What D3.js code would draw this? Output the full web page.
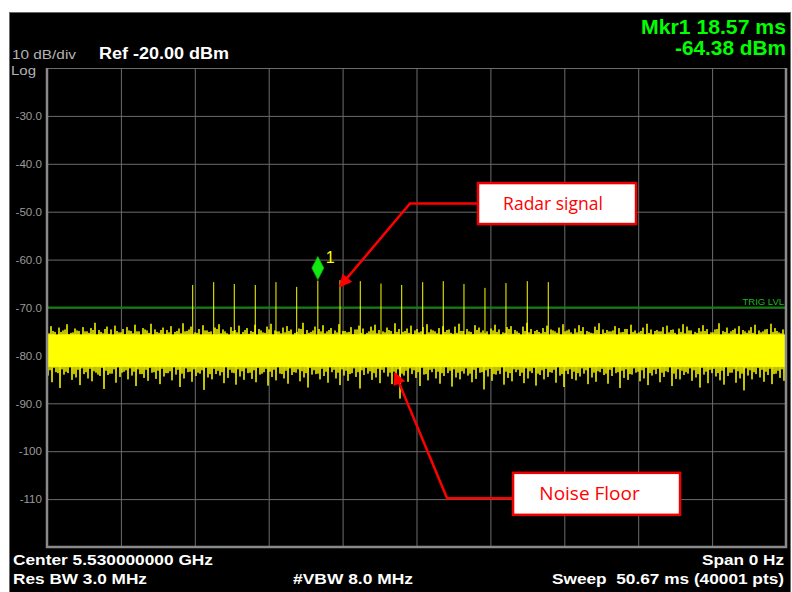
<!DOCTYPE html>
<html>
<head>
<meta charset="utf-8">
<script src="https://cdn.jsdelivr.net/npm/d3@7"></script>
<style>
  body { margin: 0; background: #fff; }
  svg { display: block; }
  .instr { font-family: "Liberation Sans", Arial, sans-serif; }
</style>
</head>
<body>
<div id="chart"></div>
<script>
// sweep settings
const sweepMs = 50.67;
const refLevel = -20;
const bottomLevel = -120;
const yTickValues = [-30, -40, -50, -60, -70, -80, -90, -100, -110];
const trigLevel = -70;

// radar pulses (time in ms, peak in dBm)
const pulseTimes = [9.99, 11.43, 12.84, 14.28, 15.70, 17.12, 18.57, 20.09, 21.48,
  22.90, 24.32, 25.76, 27.17, 28.59, 30.03, 31.47, 32.93, 34.37];
const pulsePeaks = [-65.3, -64.7, -65.1, -65.3, -64.7, -65.7, -64.38, -64.3, -64.5,
  -65.0, -65.3, -64.7, -64.5, -65.1, -65.9, -64.9, -64.5, -64.7];

// marker 1
const marker = { t: 18.57, v: -64.38 };

// noise floor: solid core and spike tips read along the sweep
const noiseCore = [-82.4, -75.6];
const noiseHigh = [
  -74.6,-73.9,-75.1,-74.2,-74.8,-73.5,-75.3,-74.4,-74.9,-74.1,
  -75.0,-74.3,-73.2,-74.7,-75.4,-74.0,-74.6,-73.8,-75.2,-74.5,
  -74.1,-74.9,-73.6,-75.0,-74.3,-74.8,-73.4,-74.6,-75.3,-74.2,
  -74.7,-73.9,-75.1,-74.4,-73.3,-74.9,-74.0,-75.2,-74.5,-73.7,
  -74.8,-75.0,-74.2,-73.5,-74.6,-75.4,-74.1,-74.7,-73.8,-75.1,
  -74.3,-74.9,-73.6,-74.5,-75.2,-74.0,-73.4,-74.8,-75.0,-74.2,
  -73.9,-74.6,-75.3,-74.4,-73.2,-74.7,-75.1,-74.0,-74.5,-73.7,
  -75.0,-74.3,-74.8,-73.5,-74.9,-75.2,-74.1,-74.6,-73.8,-74.4,
  -75.3,-74.0,-73.6,-74.7,-75.0,-74.2,-74.9,-73.3,-74.5,-75.1,
  -74.4,-73.8,-74.8,-75.2,-74.1,-73.5,-74.6,-75.0,-74.3,-73.9,
  -74.7,-75.3,-74.0,-73.4,-74.9,-74.5,-75.1,-73.7,-74.2,-74.8,
  -75.0,-74.4,-73.6,-74.6,-75.2,-74.1,-73.9,-74.7,-75.3,-74.0,
  -73.2,-74.5,-74.9,-75.1,-74.3,-73.8,-74.6,-75.0,-74.2,-73.5,
  -74.8,-75.2,-74.4,-73.7,-74.1,-74.9,-75.3,-74.0,-73.3,-74.6,
  -74.7,-75.0,-73.9,-74.3,-75.1,-74.5,-73.6,-74.8,-75.2,-74.2,
  -73.4,-74.6,-74.9,-75.0,-74.1,-73.8,-74.7,-75.3,-74.4,-73.5,
  -74.0,-74.8,-75.1,-74.3,-73.7,-74.5,-75.2,-74.6,-73.3,-74.9,
  -74.2,-75.0,-74.4,-73.9,-74.7,-75.3,-74.1,-73.6,-74.8,-75.0,
  -74.5,-73.4,-74.3,-75.2,-74.6
];
const noiseLow = [
  -84.2,-85.6,-83.5,-86.8,-84.0,-83.7,-85.1,-84.6,-86.2,-83.9,
  -84.8,-85.4,-83.6,-84.3,-87.0,-84.1,-83.8,-85.7,-84.5,-83.4,
  -85.0,-84.2,-86.4,-83.9,-84.7,-85.3,-83.6,-84.9,-86.0,-84.4,
  -83.7,-85.2,-84.0,-86.6,-84.8,-83.5,-85.5,-84.3,-83.8,-87.2,
  -84.6,-85.0,-83.9,-84.2,-85.8,-84.7,-83.6,-86.1,-84.4,-85.1,
  -83.7,-84.9,-85.6,-84.0,-83.5,-86.3,-84.5,-85.2,-83.8,-84.8,
  -85.9,-84.1,-83.6,-85.4,-84.6,-86.7,-84.0,-83.9,-85.0,-84.3,
  -85.7,-83.5,-84.8,-86.2,-84.2,-85.3,-83.7,-84.5,-86.9,-84.1,
  -83.8,-85.1,-84.6,-85.8,-83.6,-84.4,-86.0,-84.9,-89.0,-84.2,
  -85.5,-83.9,-84.7,-86.4,-84.0,-85.2,-83.5,-84.8,-85.9,-84.3,
  -83.7,-86.5,-84.6,-85.0,-83.8,-84.2,-85.6,-84.9,-83.6,-87.1,
  -84.4,-85.3,-84.0,-83.9,-86.1,-84.7,-85.4,-83.5,-84.3,-85.8,
  -84.8,-83.7,-86.3,-84.1,-85.0,-84.5,-83.6,-85.7,-84.2,-86.6,
  -83.9,-84.9,-85.2,-84.4,-83.8,-86.0,-84.6,-85.5,-83.5,-84.1,
  -85.9,-84.3,-83.7,-86.8,-84.7,-85.1,-84.0,-83.6,-85.4,-84.8,
  -86.2,-84.2,-83.9,-85.6,-84.5,-83.5,-86.4,-84.9,-85.0,-84.1,
  -83.8,-85.3,-84.6,-86.7,-84.0,-85.8,-83.7,-84.4,-85.2,-86.1,
  -84.3,-83.6,-85.7,-84.8,-87.3,-84.2,-85.0,-83.9,-84.6,-85.5,
  -84.1,-86.0,-83.8,-84.7,-85.3
];
// smaller excursions between the tall spikes
const noiseHigh2 = [
  -75.4,-74.9,-75.8,-75.1,-74.6,-75.6,-75.2,-74.8,-75.9,-75.0,
  -75.3,-74.7,-75.7,-75.1,-74.5,-75.5,-75.8,-74.9,-75.2,-75.6,
  -74.8,-75.4,-75.0,-75.9,-74.6,-75.3,-75.7,-75.1,-74.7,-75.5,
  -75.2,-75.8,-74.9,-75.4,-75.0,-74.6,-75.6,-75.3,-75.9,-74.8,
  -75.1,-75.7,-74.5,-75.4,-75.0,-75.8,-74.9,-75.2,-75.6,-74.7,
  -75.5,-75.1,-75.9,-74.8,-75.3,-74.6,-75.7,-75.0,-75.4,-75.2,
  -74.9,-75.8,-75.1,-74.5,-75.6,-75.3,-74.8,-75.9,-75.0,-75.4,
  -74.7,-75.5,-75.2,-75.8,-74.9,-75.1,-75.6,-74.6,-75.3,-75.7,
  -75.0,-74.8,-75.4,-75.9,-75.2,-74.7,-75.5,-75.1,-75.8,-74.9,
  -75.3,-75.6,-74.5,-75.0,-75.7,-75.2,-74.8,-75.4,-75.9,-75.1,
  -74.6,-75.5,-75.3,-74.9,-75.8,-75.0,-75.6,-74.7,-75.2,-75.4,
  -75.9,-74.8,-75.1,-75.7,-75.3,-74.5,-75.5,-75.0,-75.8,-74.9,
  -75.2,-75.6,-74.7,-75.4,-75.1,-75.9,-74.8,-75.3,-75.7,-75.0,
  -74.6,-75.5,-75.2,-74.9,-75.8,-75.1,-75.4,-74.7,-75.6,-75.3,
  -75.0,-74.8,-75.9,-75.2,-74.5,-75.7,-75.1,-75.4,-74.9,-75.6,
  -75.3,-75.8,-74.7,-75.0,-75.5,-75.2,-74.6,-75.9,-75.1,-75.4,
  -74.8,-75.7,-75.3,-75.0,-74.9,-75.6,-75.2,-74.5,-75.8,-75.1,
  -75.4,-74.7,-75.5,-75.9,-75.0,-74.8,-75.3,-75.7,-75.2,-74.6,
  -75.6,-75.1,-74.9,-75.4,-75.8
];
const noiseLow2 = [
  -83.1,-82.6,-83.7,-82.9,-83.4,-82.5,-83.9,-83.0,-82.7,-83.5,
  -82.8,-83.3,-84.0,-82.6,-83.2,-83.8,-82.9,-82.5,-83.6,-83.1,
  -82.7,-83.4,-82.9,-83.9,-83.0,-82.6,-83.5,-83.2,-82.8,-83.7,
  -83.3,-82.5,-83.0,-83.8,-82.7,-83.4,-82.9,-83.6,-83.1,-82.6,
  -83.9,-82.8,-83.2,-83.5,-82.5,-83.0,-83.7,-82.9,-83.3,-82.7,
  -83.6,-83.1,-82.6,-83.8,-82.8,-83.4,-83.0,-82.5,-83.9,-83.2,
  -82.7,-83.5,-82.9,-83.3,-83.7,-82.6,-83.1,-83.8,-82.8,-83.4,
  -82.5,-83.0,-83.6,-82.9,-83.2,-83.9,-82.7,-83.5,-83.1,-82.6,
  -83.3,-83.7,-82.8,-83.0,-82.5,-83.6,-83.4,-82.9,-83.8,-83.2,
  -82.7,-83.1,-83.5,-82.6,-83.9,-83.0,-82.8,-83.4,-83.7,-82.5,
  -83.2,-82.9,-83.6,-83.3,-82.7,-83.8,-83.0,-82.6,-83.5,-83.1,
  -82.8,-83.9,-83.2,-82.5,-83.4,-83.7,-82.9,-83.0,-83.6,-82.7,
  -83.3,-82.6,-83.8,-83.1,-82.8,-83.5,-83.0,-82.5,-83.9,-83.2,
  -82.9,-83.4,-83.7,-82.7,-83.1,-82.6,-83.6,-83.3,-82.8,-83.8,
  -83.0,-82.5,-83.5,-83.2,-82.9,-83.9,-82.7,-83.4,-83.1,-82.6,
  -83.7,-83.0,-82.8,-83.6,-83.3,-82.5,-83.8,-82.9,-83.2,-83.5,
  -82.7,-83.1,-83.9,-82.6,-83.4,-83.0,-82.8,-83.7,-83.2,-82.5,
  -83.6,-82.9,-83.3,-83.8,-82.7,-83.1,-83.5,-82.6,-83.0,-83.4,
  -82.8,-83.9,-83.2,-82.9,-83.6
];

// callouts, anchored in data units [ms, dBm]
const callouts = [
  { text: 'Radar signal', box: [34.97, -48.3], w: 158, h: 41, size: 17.5, dx: -4, elbow: [24.89, -48.3], tip: [20.09, -65.6] },
  { text: 'Noise Floor', box: [37.68, -108.9], w: 167, h: 42, size: 19, dx: -7, elbow: [27.43, -109.8], tip: [23.86, -83.7] }
];

const width = 792, height = 592;
const plot = { left: 47, right: 786, top: 68, bottom: 547 };

const svg = d3.select('#chart').append('svg')
  .attr('width', width)
  .attr('height', height);

// instrument screen
svg.append('rect')
  .attr('x', 9.5).attr('y', 12.5)
  .attr('width', 781).attr('height', 580)
  .attr('fill', '#000')
  .attr('stroke', '#6a6a6a');

const x = d3.scaleLinear().domain([0, sweepMs]).range([plot.left, plot.right]);
const y = d3.scaleLinear().domain([bottomLevel, refLevel]).range([plot.bottom, plot.top]);

// grid
const xGrid = d3.axisBottom(x)
  .tickValues(d3.range(0, 11).map(i => i * sweepMs / 10))
  .tickSize(-(plot.bottom - plot.top))
  .tickFormat('');
svg.append('g')
  .attr('transform', `translate(0, ${plot.bottom})`)
  .call(xGrid)
  .call(g => g.select('.domain').remove())
  .call(g => g.selectAll('line').attr('stroke', '#6c6c6c'));

const yGrid = d3.axisLeft(y)
  .tickValues(d3.range(refLevel, bottomLevel - 1, -10))
  .tickSize(-(plot.right - plot.left))
  .tickFormat('');
svg.append('g')
  .attr('transform', `translate(${plot.left}, 0)`)
  .call(yGrid)
  .call(g => g.select('.domain').remove())
  .call(g => g.selectAll('line').attr('stroke', '#6c6c6c'));

// y labels
const yAxis = d3.axisLeft(y)
  .tickValues(yTickValues)
  .tickSize(0)
  .tickPadding(5)
  .tickFormat(v => v > -100 ? v.toFixed(1) : String(v));
svg.append('g')
  .attr('class', 'instr')
  .attr('transform', `translate(${plot.left}, 0)`)
  .call(yAxis)
  .call(g => g.select('.domain').remove())
  .call(g => g.selectAll('text')
    .attr('fill', '#9a9a9a')
    .style('font-size', '11.6px')
    .style('font-family', '"Liberation Sans", Arial, sans-serif'));

// clip for traces
svg.append('clipPath').attr('id', 'plot-clip')
  .append('rect')
  .attr('x', plot.left).attr('y', plot.top)
  .attr('width', plot.right - plot.left).attr('height', plot.bottom - plot.top);

const traces = svg.append('g').attr('clip-path', 'url(#plot-clip)');

// trigger level
traces.append('line')
  .attr('x1', x(0)).attr('x2', x(sweepMs))
  .attr('y1', y(trigLevel)).attr('y2', y(trigLevel))
  .attr('stroke', '#0f800f')
  .attr('stroke-width', 2);

// noise core
traces.append('rect')
  .attr('x', x(0)).attr('width', x(sweepMs) - x(0))
  .attr('y', y(noiseCore[1]))
  .attr('height', y(noiseCore[0]) - y(noiseCore[1]))
  .attr('fill', '#ffff00');

// noise trace: tall high, tall low, small high, small low for each sample
const tracePts = [];
noiseHigh.forEach((v, i) => {
  tracePts.push(v, noiseLow[i], noiseHigh2[i], noiseLow2[i]);
});
const tStep = sweepMs / (tracePts.length - 1);
const noiseLine = d3.line()
  .x((d, i) => x(i * tStep))
  .y(d => y(d));
traces.append('path')
  .datum(tracePts)
  .attr('d', noiseLine)
  .attr('fill', 'none')
  .attr('stroke', '#ffff00')
  .attr('stroke-width', 1);

// pulses
traces.selectAll('.pulse')
  .data(pulseTimes)
  .join('line')
    .attr('class', 'pulse')
    .attr('x1', d => x(d)).attr('x2', d => x(d))
    .attr('y1', y(-78))
    .attr('y2', (d, i) => y(pulsePeaks[i]))
    .attr('stroke', '#ffff00')
    .attr('stroke-width', 1);

// TRIG LVL label
svg.append('text')
  .attr('class', 'instr')
  .attr('x', plot.right - 2)
  .attr('y', y(trigLevel) - 3)
  .attr('text-anchor', 'end')
  .attr('fill', '#1db81d')
  .style('font-size', '9.5px')
  .text('TRIG LVL');

// plot frame
svg.append('path')
  .attr('d', `M${plot.left},${plot.top}V${plot.bottom}H${plot.right}V${plot.top}`)
  .attr('fill', 'none')
  .attr('stroke', '#8a8a8a')
  .attr('stroke-width', 2.5);

// marker diamond
const mx = x(marker.t), my = y(marker.v);
svg.append('path')
  .attr('d', `M${mx},${my - 1}L${mx + 6},${my - 12.5}L${mx},${my - 24}L${mx - 6},${my - 12.5}Z`)
  .attr('fill', '#12e812')
  .attr('stroke', '#0bb80b')
  .attr('stroke-width', 0.8);
svg.append('text')
  .attr('class', 'instr')
  .attr('x', mx + 8)
  .attr('y', my - 18)
  .attr('fill', '#ffff00')
  .style('font-size', '16px')
  .text('1');

// header text
const header = svg.append('g').attr('class', 'instr');
header.append('text').attr('x', 12).attr('y', 59)
  .attr('fill', '#b4b4b4').style('font-size', '13.5px')
  .attr('textLength', 64).attr('lengthAdjust', 'spacingAndGlyphs')
  .text('10 dB/div');
header.append('text').attr('x', 11).attr('y', 75)
  .attr('fill', '#b4b4b4').style('font-size', '13.5px')
  .attr('textLength', 25).attr('lengthAdjust', 'spacingAndGlyphs')
  .text('Log');
header.append('text').attr('x', 99).attr('y', 59)
  .attr('fill', '#fff').style('font-size', '16px').style('font-weight', 'bold')
  .attr('textLength', 130).attr('lengthAdjust', 'spacingAndGlyphs')
  .text('Ref -20.00 dBm');
header.append('text').attr('x', 786).attr('y', 34)
  .attr('text-anchor', 'end')
  .attr('fill', '#00ff00').style('font-size', '20px').style('font-weight', 'bold')
  .attr('textLength', 145).attr('lengthAdjust', 'spacingAndGlyphs')
  .text('Mkr1 18.57 ms');
header.append('text').attr('x', 786).attr('y', 55)
  .attr('text-anchor', 'end')
  .attr('fill', '#00ff00').style('font-size', '20px').style('font-weight', 'bold')
  .attr('textLength', 111).attr('lengthAdjust', 'spacingAndGlyphs')
  .text('-64.38 dBm');

// footer text
const footerLines = [
  { text: 'Center 5.530000000 GHz', x: 13, y: 565, len: 200, anchor: 'start' },
  { text: 'Res BW 3.0 MHz', x: 13, y: 584, len: 134, anchor: 'start' },
  { text: '#VBW 8.0 MHz', x: 293, y: 584, len: 120, anchor: 'start' },
  { text: 'Span 0 Hz', x: 784, y: 565, len: 82, anchor: 'end' },
  { text: 'Sweep  50.67 ms (40001 pts)', x: 784, y: 584, len: 232, anchor: 'end' }
];
svg.append('g').attr('class', 'instr')
  .selectAll('text')
  .data(footerLines)
  .join('text')
    .attr('x', d => d.x)
    .attr('y', d => d.y)
    .attr('text-anchor', d => d.anchor)
    .attr('textLength', d => d.len)
    .attr('lengthAdjust', 'spacingAndGlyphs')
    .attr('fill', '#fff')
    .style('font-size', '15.5px')
    .style('font-weight', 'bold')
    .style('white-space', 'pre')
    .text(d => d.text);

// callouts
svg.append('defs').append('marker')
  .attr('id', 'arrow')
  .attr('viewBox', '0 0 10 10')
  .attr('refX', 9).attr('refY', 5)
  .attr('markerWidth', 6).attr('markerHeight', 5)
  .attr('markerUnits', 'strokeWidth')
  .attr('orient', 'auto')
  .append('path')
  .attr('d', 'M0,0L10,5L0,10Z')
  .attr('fill', '#ff0000');

const co = svg.selectAll('.callout')
  .data(callouts)
  .join('g')
    .attr('class', 'callout');

co.append('path')
  .attr('d', d => {
    const bx = x(d.box[0]) - d.w / 2;
    return `M${bx},${y(d.elbow[1])}H${x(d.elbow[0])}L${x(d.tip[0])},${y(d.tip[1])}`;
  })
  .attr('fill', 'none')
  .attr('stroke', '#ff0000')
  .attr('stroke-width', 2.5)
  .attr('marker-end', 'url(#arrow)');

co.append('rect')
  .attr('x', d => x(d.box[0]) - d.w / 2)
  .attr('y', d => y(d.box[1]) - d.h / 2)
  .attr('width', d => d.w)
  .attr('height', d => d.h)
  .attr('fill', '#fff')
  .attr('stroke', '#ee0000')
  .attr('stroke-width', 2.5);

co.append('text')
  .attr('x', d => x(d.box[0]) + d.dx)
  .attr('y', d => y(d.box[1]))
  .attr('dy', '0.35em')
  .attr('text-anchor', 'middle')
  .attr('fill', '#ff0000')
  .style('font-family', '"Open Sans", Lato, sans-serif')
  .style('font-size', d => d.size + 'px')
  .text(d => d.text);
</script>
</body>
</html>
